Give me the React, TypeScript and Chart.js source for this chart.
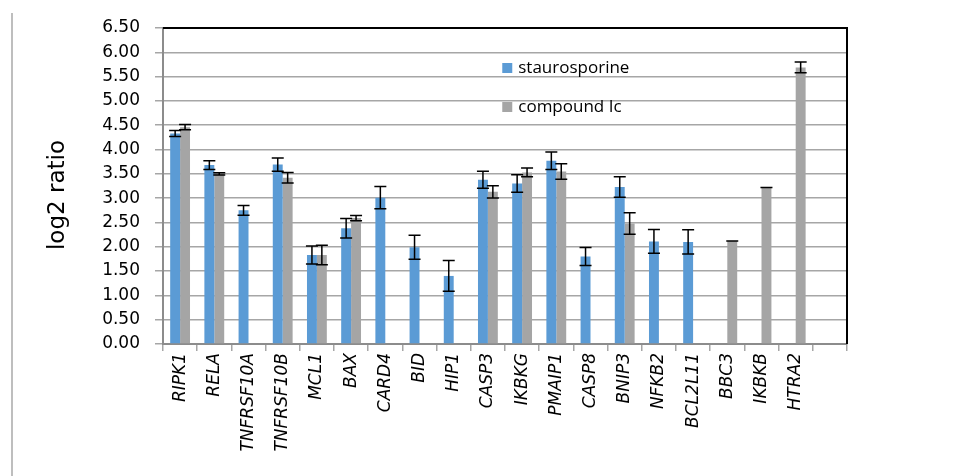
import React, { useEffect, useRef } from "react";
import { Chart, registerables } from "chart.js";

Chart.register(...registerables);

const categories = [
  "RIPK1", "RELA", "TNFRSF10A", "TNFRSF10B", "MCL1", "BAX", "CARD4", "BID", "HIP1", "CASP3",
  "IKBKG", "PMAIP1", "CASP8", "BNIP3", "NFKB2", "BCL2L11", "BBC3", "IKBKB", "HTRA2", "",
];
const staurosporine = [4.33, 3.68, 2.75, 3.69, 1.83, 2.38, 3.01, 1.99, 1.40, 3.38, 3.30, 3.77, 1.80, 3.23, 2.11, 2.10, null, null, null, null];
const staurosporineErr = [0.06, 0.09, 0.10, 0.135, 0.185, 0.2, 0.23, 0.245, 0.315, 0.175, 0.18, 0.18, 0.185, 0.21, 0.245, 0.25, null, null, null, null];
const compoundIc = [4.46, 3.50, null, 3.42, 1.83, 2.59, null, null, null, 3.13, 3.53, 3.55, null, 2.48, null, null, 2.12, 3.22, 5.69, null];
const compoundIcErr = [0.055, 0.025, null, 0.11, 0.2, 0.055, null, null, null, 0.125, 0.09, 0.16, null, 0.22, null, null, 0, 0, 0.11, null];
const seriesNames = ["staurosporine", "compound Ic"];
const seriesColors = ["#5B9BD5", "#A5A5A5"];
const errorArrays = [staurosporineErr, compoundIcErr];
const yTicks = { min: 0, max: 6.5, step: 0.5 };
const yTitle = "log2 ratio";

const errorBarsPlugin = {
  id: "errorBars",
  afterDatasetsDraw(chart: any) {
    const ctx = chart.ctx;
    const yScale = chart.scales.y;
    ctx.save();
    ctx.strokeStyle = "#000";
    ctx.lineWidth = 1.5;
    chart.data.datasets.forEach((ds: any, di: number) => {
      const meta = chart.getDatasetMeta(di);
      const errs = errorArrays[di];
      meta.data.forEach((bar: any, i: number) => {
        const v = ds.data[i];
        const e = errs[i];
        if (v == null || e == null) return;
        const x = bar.x;
        const yHi = yScale.getPixelForValue(v + e);
        const yLo = yScale.getPixelForValue(v - e);
        const cap = 6;
        ctx.beginPath();
        ctx.moveTo(x, yHi);
        ctx.lineTo(x, yLo);
        ctx.moveTo(x - cap, yHi);
        ctx.lineTo(x + cap, yHi);
        ctx.moveTo(x - cap, yLo);
        ctx.lineTo(x + cap, yLo);
        ctx.stroke();
      });
    });
    ctx.restore();
  },
};

const framePlugin = {
  id: "frame",
  afterDraw(chart: any) {
    const ctx = chart.ctx;
    const { left, right, top, bottom } = chart.chartArea;
    ctx.save();
    // black top/right border of plot area
    ctx.strokeStyle = "#000";
    ctx.lineWidth = 2;
    ctx.beginPath();
    ctx.moveTo(left, top);
    ctx.lineTo(right, top);
    ctx.lineTo(right, bottom);
    ctx.stroke();
    // figure border line at left
    ctx.strokeStyle = "#a8a8a8";
    ctx.lineWidth = 1.5;
    ctx.beginPath();
    ctx.moveTo(12, 13);
    ctx.lineTo(12, chart.height);
    ctx.stroke();
    // y axis title
    ctx.save();
    ctx.translate(58, (top + bottom) / 2 + 9);
    ctx.rotate(-Math.PI / 2);
    ctx.font = "23px 'DejaVu Sans'";
    ctx.fillStyle = "#000";
    ctx.textAlign = "center";
    ctx.textBaseline = "middle";
    ctx.fillText(yTitle, 0, 0);
    ctx.restore();
    // legend inside plot
    const w = right - left;
    const lx = left + w * 0.496;
    const rows = [top + 40, top + 79];
    ctx.font = "17px 'Open Sans'";
    ctx.textBaseline = "middle";
    ctx.textAlign = "left";
    seriesNames.forEach((name, i) => {
      ctx.fillStyle = seriesColors[i];
      ctx.fillRect(lx, rows[i] - 5, 10, 10);
      ctx.fillStyle = "#000";
      ctx.fillText(name, lx + 16, rows[i]);
    });
    ctx.restore();
  },
};

export default function App() {
  const ref = useRef<HTMLCanvasElement | null>(null);
  useEffect(() => {
    if (!ref.current) return;
    const chart = new Chart(ref.current, {
      type: "bar",
      data: {
        labels: categories,
        datasets: [
          { label: seriesNames[0], data: staurosporine as any, backgroundColor: seriesColors[0], borderWidth: 0 },
          { label: seriesNames[1], data: compoundIc as any, backgroundColor: seriesColors[1], borderWidth: 0 },
        ],
      },
      options: {
        responsive: false,
        animation: false,
        devicePixelRatio: 1,
        layout: { padding: { left: 0, top: 28, right: 121, bottom: 0 } },
        datasets: { bar: { categoryPercentage: 0.58, barPercentage: 1 } },
        plugins: { legend: { display: false }, tooltip: { enabled: false }, title: { display: false } },
        scales: {
          x: {
            offset: true,
            grid: { offset: true, drawOnChartArea: false, drawTicks: true, tickLength: 7, color: "#a6a6a6", lineWidth: 1.5 },
            border: { color: "#8c8c8c", width: 2 },
            ticks: {
              autoSkip: false,
              minRotation: 90,
              maxRotation: 90,
              padding: 2,
              color: "#000",
              font: { family: "'DejaVu Sans'", size: 17, style: "italic" },
            },
            afterFit(scale: any) { scale.height = 132; },
          },
          y: {
            min: yTicks.min,
            max: yTicks.max,
            ticks: {
              stepSize: yTicks.step,
              padding: 15,
              color: "#000",
              font: { family: "'DejaVu Sans'", size: 17 },
              callback: (v: any) => Number(v).toFixed(2),
            },
            grid: { color: "#a6a6a6", lineWidth: 1.5, tickLength: 8, drawTicks: true },
            border: { color: "#8c8c8c", width: 2 },
            title: { display: false },
            afterFit(scale: any) { scale.width = 163; },
          },
        },
      },
      plugins: [errorBarsPlugin, framePlugin],
    });
    return () => chart.destroy();
  }, []);
  return (
    <div style={{ position: "fixed", left: 0, top: 0, width: 968, height: 476, background: "#fff" }}>
      <canvas ref={ref} width={968} height={476} style={{ width: 968, height: 476, display: "block" }} />
    </div>
  );
}
